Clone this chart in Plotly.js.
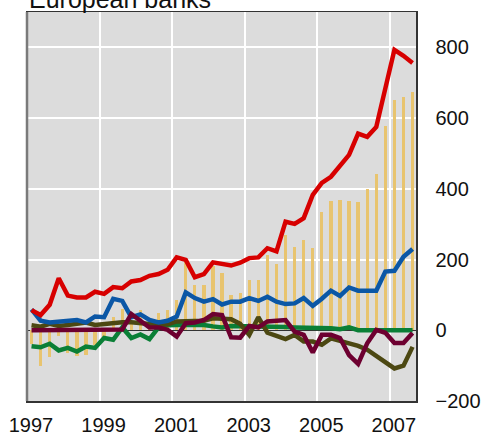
<!DOCTYPE html>
<html>
<head>
<meta charset="utf-8">
<script src="https://cdn.plot.ly/plotly-3.0.1.min.js"></script>
<style>html,body{margin:0;padding:0;background:#fff;}#chart{width:481px;height:434px;}</style>
</head>
<body>
<div id="chart"></div>
<script>
// Quarterly observations, 1997 Q1 .. 2007 Q3
const startYear = 1997;
const nQuarters = 43;
const quarters = Array.from({length: nQuarters}, (_, i) => startYear + 0.125 + i * 0.25);

const barValues = [-38, -100, -75, -15, -63, -74, -71, -42, -18, 37, 60, 20, 56, 15, 49, 57, 86,
  192, 128, 128, 182, 162, 100, 105, 142, 142, 213, 188, 270, 235, 255, 232, 334, 366, 369, 366,
  362, 399, 442, 577, 651, 659, 674];

const redValues = [57, 43, 72, 147, 98, 93, 93, 109, 103, 122, 119, 138, 142, 154, 159, 171, 206,
  199, 150, 159, 192, 187, 183, 191, 204, 206, 232, 223, 307, 301, 317, 383, 417, 434, 465, 496,
  556, 547, 575, 685, 793, 776, 756];

const blueValues = [59, 27, 22, 24, 29, 29, 22, 39, 37, 89, 83, 37, 45, 29, 22, 27, 39, 107, 91,
  81, 88, 73, 81, 81, 91, 83, 95, 81, 74, 76, 91, 69, 89, 112, 97, 121, 112, 112, 112, 166, 168,
  208, 230];

const greenValues = [-45, -48, -38, -57, -50, -60, -46, -50, -22, -27, 8, -22, -12, -25, 8, 14,
  15, 16, 16, 15, 11, 8, 12, 12, 11, 10, 10, 9, 9, 8, 8, 7, 7, 6, 3, 8, 0, 0, -1, -1, -1, -1, 0];

const oliveValues = [14, 10, 18, 12, 15, 18, 22, 15, 18, 22, 23, 23, 22, 18, 15, 17, 25, 25, 25,
  27, 34, 32, 31, 18, -13, 37, -7, -16, -25, -13, -32, -32, -41, -23, -30, -37, -44, -55, -73,
  -90, -108, -100, -47];

const maroonValues = [0, 0, 0, 0, 0, 0, 0, 0, 0, 0, 2, 46, 27, 8, 8, 1, -18, 20, 22, 29, 46, 43,
  -20, -21, 12, 8, 25, 27, 29, -4, -13, -63, -13, -13, -22, -70, -95, -37, 1, -7, -36, -36, -8];

const xTickVals = [1997, 1999, 2001, 2003, 2005, 2007];
const xTickText = ['1997', '1999', '2001', '2003', '2005', '2007'];
const yTickVals = [-200, 0, 200, 400, 600, 800];
const titleText = 'European banks';

const lineW = 4.5;
function lineTrace(y, color) {
  return {x: quarters, y: y, type: 'scatter', mode: 'lines',
    line: {color: color, width: lineW}, hoverinfo: 'skip', showlegend: false};
}

const traces = [
  {x: quarters, y: barValues, type: 'bar', width: 0.09,
   marker: {color: '#e8c46f', line: {width: 0}}, hoverinfo: 'skip', showlegend: false},
  lineTrace(greenValues, '#0a7f36'),
  lineTrace(oliveValues, '#4c4812'),
  lineTrace(blueValues, '#0b57a6'),
  lineTrace(maroonValues, '#6d0030'),
  lineTrace(redValues, '#d70000')
];

const font = {family: 'Liberation Sans, Arial, sans-serif', size: 20, color: '#111'};

const layout = {
  width: 481, height: 434,
  margin: {l: 27, r: 65, t: 12, b: 33, pad: 0},
  paper_bgcolor: '#ffffff',
  plot_bgcolor: '#dcdcdc',
  font: font,
  showlegend: false,
  bargap: 0,
  xaxis: {
    range: [1997, 2007.72],
    tickvals: xTickVals, ticktext: xTickText,
    showgrid: true, gridcolor: '#ffffff', gridwidth: 2,
    zeroline: false,
    showline: true, linecolor: '#333', linewidth: 1.5, mirror: true,
    ticks: '', ticklabelstandoff: 5, ticklabelshift: 4,
    tickfont: font
  },
  yaxis: {
    range: [-200, 900], side: 'right',
    tickvals: yTickVals,
    showgrid: true, gridcolor: '#ffffff', gridwidth: 2,
    zeroline: true, zerolinecolor: '#333', zerolinewidth: 1,
    showline: true, linecolor: '#333', linewidth: 1.5, mirror: true,
    ticks: '', ticklabelstandoff: 14,
    tickfont: font
  },
  shapes: [
    {type: 'line', xref: 'paper', yref: 'paper', x0: 0, x1: 0, y0: 0, y1: 1,
     line: {color: '#7a7a7a', width: 2.5}}
  ],
  annotations: [
    {text: titleText, xref: 'paper', yref: 'paper', x: 0, y: 1,
     xanchor: 'left', yanchor: 'bottom', showarrow: false, yshift: -3,
     font: {family: 'Liberation Sans, Arial, sans-serif', size: 25, color: '#111'}}
  ]
};

Plotly.newPlot('chart', traces, layout, {displayModeBar: false, staticPlot: true});
</script>
</body>
</html>
